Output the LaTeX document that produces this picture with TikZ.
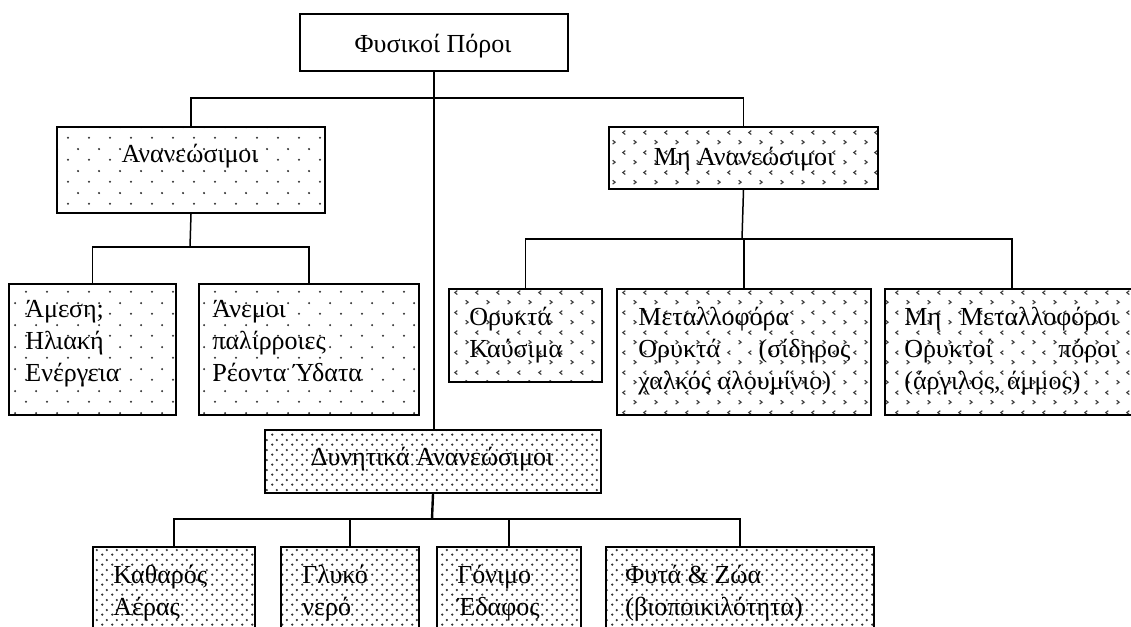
\documentclass[tikz,border=0pt]{standalone}
\usepackage{fontspec}
\setmainfont{Liberation Serif}
\usetikzlibrary{patterns}
\pgfdeclarepatternformonly{sparsedots}{\pgfqpoint{0pt}{0pt}}{\pgfqpoint{10.5pt}{11pt}}{\pgfqpoint{10.5pt}{11pt}}{%
  \pgfpathcircle{\pgfqpoint{2.6pt}{2.75pt}}{0.6pt}%
  \pgfpathcircle{\pgfqpoint{7.85pt}{8.25pt}}{0.6pt}%
  \pgfusepath{fill}}
\pgfdeclarepatternformonly{densedots}{\pgfqpoint{0pt}{0pt}}{\pgfqpoint{5pt}{5pt}}{\pgfqpoint{5pt}{5pt}}{%
  \pgfpathcircle{\pgfqpoint{1.25pt}{1.25pt}}{0.68pt}%
  \pgfpathcircle{\pgfqpoint{3.75pt}{3.75pt}}{0.68pt}%
  \pgfusepath{fill}}
\pgfdeclarepatternformonly{divots}{\pgfqpoint{0pt}{0pt}}{\pgfqpoint{10.5pt}{10pt}}{\pgfqpoint{10.5pt}{10pt}}{%
  \pgfsetlinewidth{0.6pt}%
  \pgfpathmoveto{\pgfqpoint{1.9pt}{3.5pt}}\pgfpathlineto{\pgfqpoint{3.2pt}{2.5pt}}\pgfpathlineto{\pgfqpoint{1.9pt}{1.5pt}}%
  \pgfpathmoveto{\pgfqpoint{8.5pt}{8.5pt}}\pgfpathlineto{\pgfqpoint{7.2pt}{7.5pt}}\pgfpathlineto{\pgfqpoint{8.5pt}{6.5pt}}%
  \pgfusepath{stroke}}
\tikzset{
  boxbase/.style={draw, line width=1pt, rectangle, inner sep=0pt, anchor=north west},
  boxplain/.style={boxbase, fill=white},
  boxsparse/.style={boxbase, pattern=sparsedots, pattern color=black!80},
  boxdiv/.style={boxbase, pattern=divots, pattern color=black!75},
  boxdense/.style={boxbase, pattern=densedots, pattern color=black!80},
  conn/.style={line width=0.75pt},
  lbl/.style={inner sep=0pt, font=\fontsize{13pt}{16pt}\selectfont},
}
\begin{document}
\begin{tikzpicture}[x=0.5pt, y=-0.5pt]
\useasboundingbox (0,0) rectangle (1131,627);
\clip (0,0) rectangle (1131,627);
% boxes
\node[boxplain,  minimum width=134pt,   minimum height=28.5pt] (top)     at (299,13) {};
\node[boxsparse, minimum width=134pt,   minimum height=43pt]   (ana)     at (56,126) {};
\node[boxdiv,    minimum width=134.5pt, minimum height=31pt]   (mh)      at (608,126) {};
\node[boxsparse, minimum width=83.5pt,  minimum height=65.5pt] (amesi)   at (8,283) {};
\node[boxsparse, minimum width=110pt,   minimum height=65.5pt] (anemoi)  at (198,283) {};
\node[boxdiv,    minimum width=76.5pt,  minimum height=46.5pt] (orykta)  at (448,288) {};
\node[boxdiv,    minimum width=127pt,   minimum height=63pt]   (metal)   at (616,288) {};
\node[boxdiv,    minimum width=127pt,   minimum height=63pt]   (mhmetal) at (884,288) {};
\node[boxdense,  minimum width=168pt,   minimum height=31.5pt] (dyn)     at (264,429) {};
\node[boxdense,  minimum width=81pt,    minimum height=60pt]   (kath)    at (92,546) {};
\node[boxdense,  minimum width=69pt,    minimum height=60pt]   (glyko)   at (280,546) {};
\node[boxdense,  minimum width=72pt,    minimum height=60pt]   (gonimo)  at (436,546) {};
\node[boxdense,  minimum width=134pt,   minimum height=60pt]   (fyta)    at (605,546) {};
% texts
\node[lbl, anchor=base] (t-top) at (433,52) {Φυσικοί Πόροι};
\node[lbl, anchor=base] (t-ana) at (190,162) {Ανανεώσιμοι};
\node[lbl, anchor=base] (t-mh)  at (744,165) {Μη Ανανεώσιμοι};
\node[lbl, anchor=base] (t-dyn) at (432,465) {Δυνητικά Ανανεώσιμοι};
\node[lbl, anchor=base west] (t-amesi)  at (25,317)  {\parbox[t]{80pt}{Άμεση;\\Ηλιακή\\Ενέργεια}};
\node[lbl, anchor=base west] (t-anemoi) at (212,317) {\parbox[t]{100pt}{Άνεμοι\\παλίρροιες\\Ρέοντα Ύδατα}};
\node[lbl, anchor=base west] (t-orykta) at (469,325) {\parbox[t]{70pt}{Ορυκτά\\Καύσιμα}};
\node[lbl, anchor=base west] (t-metal)  at (638,325) {\parbox[t]{106pt}{Μεταλλοφόρα\\Ορυκτά\hfill(σίδηρος\\χαλκός αλουμίνιο)}};
\node[lbl, anchor=base west] (t-mhmetal) at (904,325) {\parbox[t]{106.5pt}{Μη\hfill Μεταλλοφόροι\\Ορυκτοί\hfill πόροι\\(άργιλος, άμμος)}};
\node[lbl, anchor=base west] (t-kath)   at (113,583) {\parbox[t]{70pt}{Καθαρός\\Αέρας}};
\node[lbl, anchor=base west] (t-glyko)  at (302,583) {\parbox[t]{60pt}{Γλυκό\\νερό}};
\node[lbl, anchor=base west] (t-gonimo) at (457,583) {\parbox[t]{60pt}{Γόνιμο\\Έδαφος}};
\node[lbl, anchor=base west] (t-fyta)   at (625,583) {\parbox[t]{120pt}{Φυτά \& Ζώα\\(βιοποικιλότητα)}};
% junctions
\coordinate (j1) at (433,98);
\coordinate (j2) at (190,247);
\coordinate (j3) at (742,239);
\coordinate (j4) at (432,519);
% connectors
\draw[conn] (top.south) -- (top.south |- dyn.north);
\draw[conn] (ana.north) |- (j1) -| (mh.north);
\draw[conn] (ana.south) -- (j2);
\draw[conn] (amesi.north) |- (j2) -| (anemoi.north);
\draw[conn] (mh.south) -- (j3);
\draw[conn] (orykta.north) |- (j3) -| (mhmetal.north);
\draw[conn] (metal.north) -- (metal.north |- j3);
\draw[line width=1.2pt] (dyn.south) -- (j4);
\draw[conn] (kath.north) |- (j4) -| (fyta.north);
\draw[conn] (glyko.north) -- (glyko.north |- j4);
\draw[conn] (gonimo.north) -- (gonimo.north |- j4);
\end{tikzpicture}
\end{document}
